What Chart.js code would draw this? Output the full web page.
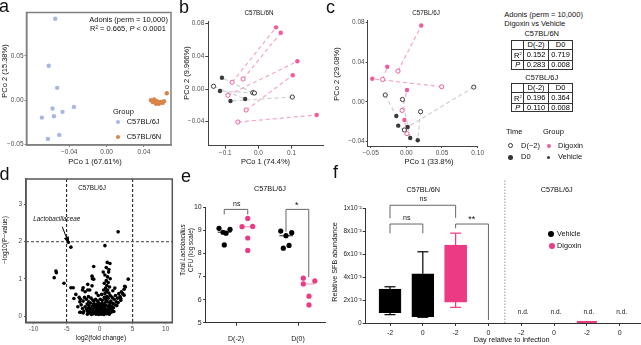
<!DOCTYPE html>
<html><head><meta charset="utf-8">
<script src="https://cdn.jsdelivr.net/npm/chart.js@4.4.1/dist/chart.umd.min.js"></script>
<style>
html,body{margin:0;padding:0;background:#fff;}
body{position:relative;width:641px;height:345px;overflow:hidden;font-family:"Liberation Sans",Arial,sans-serif;}
canvas{position:absolute;}
.t{position:absolute;white-space:nowrap;line-height:1;color:#111;}
.dot{position:absolute;border-radius:50%;box-sizing:border-box;}
table.ad{position:absolute;border-collapse:collapse;table-layout:fixed;font-size:7.5px;border:1.3px solid #222;}
table.ad td{border:1px solid #333;padding:0;text-align:center;height:7.8px;line-height:7.8px;overflow:hidden;white-space:nowrap;}
</style></head><body>
<script>
// ================= DATA =================
// (a) PCoA, strain groups
const a_6J_pco1 = [-0.055,-0.062,-0.053,-0.0579,-0.0564,-0.0693,-0.0472,-0.035,-0.0507,-0.0628];
const a_6J_pco2 = [0.092,0.039,0.014,-0.0094,-0.0181,-0.0196,-0.0131,-0.0075,-0.0391,-0.0436];
const a_6N_pco1 = [0.0475,0.0495,0.051,0.0525,0.054,0.056,0.058,0.060,0.0615,0.053,0.0645];
const a_6N_pco2 = [0.000,-0.002,0.001,-0.003,-0.001,-0.004,-0.002,-0.003,-0.001,-0.004,0.0079];
const a_ticks_x = [-0.04,0,0.04];
const a_ticks_y = [-0.05,0,0.05];

// (b) C57BL/6N PCoA; element i of D(-2) pairs with element i of D0
const b_dig_dm2 = [[-0.0792,0.0082],[-0.0461,0.0122],[-0.0922,-0.0077],[-0.037,-0.0257],[-0.062,-0.0404]];
const b_dig_d0  = [[0.0533,0.0755],[0.0675,0.0689],[0.1175,0.0339],[0.1036,0.0168],[0.1759,-0.0318]];
const b_veh_dm2 = [[-0.1355,0.0033],[-0.0169,-0.0045],[-0.012,-0.0049],[0.1024,-0.0098]];
const b_veh_d0  = [[-0.040,-0.0122],[-0.110,0.0138],[-0.116,-0.0024],[-0.0843,-0.0147]];
const b_ticks_x = [-0.1,0,0.1];
const b_ticks_y = [-0.04,0,0.04,0.08];

// (c) C57BL/6J PCoA
const c_dig_dm2 = [[-0.0117,0.031],[-0.0331,0.0225],[0.0496,0.0152],[-0.0059,-0.0088],[0.001,-0.0323]];
const c_dig_d0  = [[0.021,0.0771],[-0.0267,0.0354],[-0.0477,0.0232],[0.001,0.0118],[-0.0027,-0.0185]];
const c_veh_dm2 = [[0.0945,0.0148],[-0.0295,0.0068],[-0.0054,0.0023],[0.020,-0.0101],[-0.0027,-0.0286]];
const c_veh_d0  = [[0.0019,-0.0256],[-0.014,-0.0145],[0.0055,-0.0367],[0.016,-0.039],[-0.0113,-0.0242]];
const c_ticks_x = [-0.05,0,0.05,0.1];
const c_ticks_y = [-0.04,0,0.04,0.08];

// Adonis tables
const adonis_cols = ['D(-2)','D0'];
const adonis_6N_R2 = ['0.152','0.719'];
const adonis_6N_P  = ['0.283','0.008'];
const adonis_6J_R2 = ['0.196','0.364'];
const adonis_6J_P  = ['0.110','0.008'];

// (d) volcano: [log2 fold change, -log10 P]
const d_points = [
 [2.8,2.26],[-4.75,1.98],[-4.35,1.85],[0.8,1.89],
 [-6.62,1.21],[-6.55,1.16],[-6.88,1.03],[-5.4,0.88],[-4.35,0.76],[-4.0,0.76],
 [-0.9,1.33],[1.15,1.44],[1.56,1.41],[4.33,0.99],[0.55,1.18],[1.36,1.18],
 [-3.9,0.47],[-2.9,0.1],[-1.15,0.81],[-0.9,0.99],[-1.15,1.07],[-2.5,0.76],[-1.8,0.7],[3.7,0.56],[3.2,0.47],[3.9,0.78],
 [-2.2,0.25],[-2.0,0.18],[-1.9,0.32],[-1.8,0.12],[-1.7,0.22],[-1.6,0.28],[-1.5,0.15],[-1.4,0.35],[-1.3,0.2],[-1.2,0.1],
 [-1.1,0.27],[-1.0,0.16],[-0.9,0.33],[-0.8,0.22],[-0.7,0.12],[-0.6,0.3],[-0.5,0.2],[-0.4,0.08],[-0.3,0.26],[-0.2,0.15],
 [-0.1,0.35],[0.0,0.22],[0.1,0.1],[0.2,0.3],[0.3,0.18],[0.4,0.06],[0.5,0.25],[0.6,0.14],[0.7,0.33],[0.8,0.2],
 [0.9,0.1],[1.0,0.28],[1.1,0.17],[1.2,0.38],[1.3,0.24],[1.4,0.12],[1.5,0.3],[1.6,0.2],[1.7,0.4],[1.8,0.26],
 [1.9,0.15],[2.0,0.34],[2.1,0.22],[2.2,0.45],[2.3,0.3],[2.5,0.38],
 [-1.85,0.05],[-1.25,0.04],[-0.95,0.06],[-0.55,0.05],[-0.15,0.04],[0.25,0.05],[0.65,0.04],[1.05,0.06],[1.45,0.05],
 [-2.4,0.12],[-2.6,0.2],[-2.8,0.3],[-2.5,0.4],[-2.9,0.45],[-3.1,0.5],[-3.0,0.38],[-2.3,0.5],[-2.0,0.45],[-1.7,0.52],
 [-1.3,0.48],[-1.0,0.42],[-0.6,0.45],[-0.3,0.4],[0.1,0.45],[0.4,0.42],[0.7,0.5],[0.9,0.45],[1.1,0.52],[1.3,0.48],
 [1.6,0.55],[1.9,0.5],[2.4,0.55],[2.7,0.48],[2.9,0.6],[3.1,0.52],[3.3,0.65],[3.5,0.6],[3.7,0.72],[3.8,0.8],
 [3.2,0.42],[2.8,0.36],[2.6,0.28],
 [0.8,0.6],[1.0,0.65],[1.2,0.7],[1.4,0.62],[0.9,0.75],[1.1,0.82],[1.3,0.9],[1.0,0.95],[1.5,0.78],[0.7,0.88],
 [1.2,1.05],[0.8,1.1],[1.4,1.25],[1.0,1.3],[1.6,1.0],[0.6,0.7],
 [-3.6,0.58],[-2.2,0.65],[-2.6,0.7],[-1.8,0.85],[-1.1,1.0],[-1.5,0.7],[-0.5,0.62],[-0.2,0.55],[0.3,0.58],[2.0,0.68],
 [2.3,0.75],[-3.3,0.25],[-2.5,0.08],[-3.0,0.1],
 [-0.75,0.28],[-0.45,0.32],[-0.05,0.28],[0.35,0.34],[0.75,0.26],[1.15,0.08],[1.55,0.36],[0.15,0.2],[-0.35,0.14],[0.55,0.12],
 [0.95,0.38],[1.35,0.16],[1.75,0.1],[2.15,0.12],[-1.45,0.08],[-0.85,0.4],[-1.65,0.38],[0.05,0.12],[0.45,0.24],[0.85,0.16]
];
const d_fc_cut = [-5,5];
const d_p_cut = 2;
const d_label_point = [-4.75,1.98];
const d_ticks_x = [-10,-5,0,5,10];
const d_ticks_y = [0,1,2,3];

// (e) Total Lactobacillus CFU (log scale)
const e_categories = ['D(-2)','D(0)'];
const e_veh_dm2 = [9.09,8.92,8.88,9.04,8.37];
const e_dig_dm2 = [9.52,9.16,9.17,8.67,8.13];
const e_veh_d0  = [8.97,8.77,8.90,8.35,8.23];
const e_dig_d0  = [6.93,6.68,6.81,6.15,5.77];
const e_ticks_y = [5,6,7,8,9,10];

// (f) Relative SFB abundance (box: min, q1, q3, max)
const f_days   = ['-2','0','-2','0','-2','0','-2','0'];
const f_strain = ['C57BL/6N','C57BL/6N','C57BL/6N','C57BL/6N','C57BL/6J','C57BL/6J','C57BL/6J','C57BL/6J'];
const f_group  = ['Vehicle','Vehicle','Digoxin','Digoxin','Vehicle','Vehicle','Digoxin','Digoxin'];
const f_min = [0.00073,0.00050,0.00137,null,null,null,0,null];
const f_q1  = [0.00090,0.00055,0.00183,null,null,null,0,null];
const f_q3  = [0.00297,0.00431,0.00681,null,null,null,0,null];
const f_max = [0.00317,0.00623,0.00786,null,null,null,0,null];
const f_nd  = [false,false,false,false,true,true,true,true];
const f_ticks_y = [0,0.002,0.004,0.006,0.008,0.01];
const f_ticks_y_labels = ['0','2x10\u207B\u00B3','4x10\u207B\u00B3','6x10\u207B\u00B3','8x10\u207B\u00B3','1x10\u207B\u00B2'];

// ================= STYLE / HELPERS =================
const FAM = 'Liberation Sans';
const PINK = '#ef5b9c', PINK_L = '#f5a7c9', DARK = '#3a3a3a', GRAY_L = '#cfcfcf';
const PINK2 = '#ec3a84';
const minus = d => v => (v < 0 ? '\u2212' : '') + Math.abs(v).toFixed(d);

function T(html, x, y, o = {}) {
  const d = document.createElement('div');
  d.className = 't';
  d.innerHTML = html;
  d.style.fontSize = (o.fs || 7.5) + 'px';
  if (o.color) d.style.color = o.color;
  if (o.it) d.style.fontStyle = 'italic';
  const ax = o.al === 'l' ? '0' : (o.al === 'r' ? '-100%' : '-50%');
  d.style.left = x + 'px'; d.style.top = y + 'px';
  d.style.transform = 'translate(' + ax + ',-50%)' + (o.rot ? ' rotate(' + o.rot + 'deg)' : '');
  document.body.appendChild(d);
  return d;
}
function dot(x, y, r, fill, stroke, sw) {
  const d = document.createElement('div');
  d.className = 'dot';
  Object.assign(d.style, {left: (x - r) + 'px', top: (y - r) + 'px', width: 2*r + 'px', height: 2*r + 'px', background: fill,
    border: stroke ? (sw || 1) + 'px solid ' + stroke : 'none'});
  document.body.appendChild(d);
}
function table(x, y, r2, p) {
  const t = document.createElement('table');
  t.className = 'ad';
  t.style.left = x + 'px'; t.style.top = y + 'px'; t.style.width = '61px';
  t.innerHTML = '<colgroup><col style="width:12px"><col style="width:24.5px"><col style="width:24.5px"></colgroup>' +
    '<tr><td></td><td>' + adonis_cols[0] + '</td><td>' + adonis_cols[1] + '</td></tr>' +
    '<tr><td>R<sup style="font-size:4px;vertical-align:3px">2</sup></td><td>' + r2[0] + '</td><td>' + r2[1] + '</td></tr>' +
    '<tr><td><i>P</i></td><td>' + p[0] + '</td><td>' + p[1] + '</td></tr>';
  document.body.appendChild(t);
}
function lin(min, max, ticks, fmt, o = {}) {
  return {
    type: 'linear', min, max, offset: false,
    afterBuildTicks: s => { s.ticks = ticks.map(v => ({value: v})); },
    ticks: {callback: fmt, font: {family: FAM, size: o.fs || 6.5}, color: o.tc || '#4d4d4d', padding: (o.pad !== undefined ? o.pad : 1),
      maxRotation: 0, minRotation: 0, autoSkip: false},
    grid: {display: true, drawOnChartArea: false, drawTicks: true, tickLength: (o.tl !== undefined ? o.tl : 2), color: o.ac || '#333', lineWidth: 1, offset: false},
    border: {display: true, color: o.ac || '#333', width: o.bw || 1}
  };
}
function mk(x, y, w, h, p, cfg) {
  const c = document.createElement('canvas');
  c.width = w; c.height = h;
  Object.assign(c.style, {left: x + 'px', top: y + 'px', width: w + 'px', height: h + 'px'});
  document.body.appendChild(c);
  const o = cfg.options;
  o.responsive = false; o.maintainAspectRatio = false; o.animation = false; o.devicePixelRatio = 1; o.events = [];
  o.layout = {autoPadding: false, padding: {left: 0, top: p.t - y, right: x + w - p.r, bottom: 0}};
  o.plugins = Object.assign({legend: {display: false}, tooltip: {enabled: false}, title: {display: false}}, o.plugins || {});
  o.scales.y.afterFit = s => { s.width = p.l - x; };
  o.scales.x.afterFit = s => { s.height = y + h - p.b; };
  return new Chart(c, cfg);
}
const frame = (col, w) => ({id: 'frame', afterDraw(ch) {
  const a = ch.chartArea, ctx = ch.ctx;
  ctx.save(); ctx.strokeStyle = col; ctx.lineWidth = w;
  ctx.strokeRect(a.left, a.top, a.right - a.left, a.bottom - a.top); ctx.restore();
}});
function pts(arr, fill, stroke, r, sw) {
  return {data: arr.map(q => ({x: q[0], y: q[1]})), pointRadius: r, pointBackgroundColor: fill, pointBorderColor: stroke || fill,
    pointBorderWidth: sw || 0, order: 0};
}
function pairLines(pre, post, color) {
  return pre.map((q, i) => ({data: [{x: q[0], y: q[1]}, {x: post[i][0], y: post[i][1]}], showLine: true, borderColor: color,
    borderWidth: 1.2, borderDash: [4, 3], pointRadius: 0, order: 2}));
}
function seg(ctx, x1, y1, x2, y2) { ctx.beginPath(); ctx.moveTo(x1, y1); ctx.lineTo(x2, y2); ctx.stroke(); }
const median = a => { const s = [...a].sort((p, q) => p - q); return s[Math.floor(s.length / 2)]; };

// ================= PANEL a =================
mk(0, 0, 180, 170, {l: 26.5, t: 12.5, r: 171, b: 145}, {
  type: 'scatter',
  data: {datasets: [
    pts(a_6J_pco1.map((v, i) => [v, a_6J_pco2[i]]), '#a7b7e1', null, 2.2),
    pts(a_6N_pco1.map((v, i) => [v, a_6N_pco2[i]]), '#d98548', null, 2.2)
  ]},
  options: {scales: {
    x: lin(-0.0858, 0.069, a_ticks_x, minus(2), {ac: '#808080', bw: 1.5, tl: 2, pad: 1}),
    y: lin(-0.0505, 0.099, a_ticks_y, minus(2), {ac: '#808080', bw: 1.5, tl: 2, pad: 1})
  }},
  plugins: [frame('#808080', 1.5)]
});
T('Adonis (perm = 10,000)', 89.3, 20, {al: 'l'});
T('R\u00B2 = 0.665, <i>P</i> &lt; 0.0001', 90, 29.3, {al: 'l'});
T('Group', 113, 111.7, {al: 'l'});
dot(117.7, 122.3, 2, '#a7b7e1'); T('C57BL/6J', 126.7, 122.3, {al: 'l'});
dot(117.7, 136.7, 2, '#d98548'); T('C57BL/6N', 126.7, 136.7, {al: 'l'});
T('PCo 1 (67.61%)', 95, 162);
T('PCo 2 (15.38%)', 5, 71, {rot: -90});

// ================= PANEL b =================
mk(170, 0, 160, 170, {l: 208.3, t: 21.7, r: 323.3, b: 145.7}, {
  type: 'scatter',
  data: {datasets: [
    pts(b_dig_d0, PINK, null, 2.2),
    pts(b_dig_dm2, '#fff', PINK, 2.1, 1),
    pts(b_veh_d0, DARK, null, 2.2),
    pts(b_veh_dm2, '#fff', DARK, 2.1, 1),
    ...pairLines(b_dig_dm2, b_dig_d0, PINK_L),
    ...pairLines(b_veh_dm2, b_veh_d0, GRAY_L)
  ]},
  options: {scales: {
    x: lin(-0.1512, 0.1958, b_ticks_x, minus(1), {tl: 3, pad: 1, ac: '#444'}),
    y: lin(-0.0694, 0.0824, b_ticks_y, minus(2), {tl: 3, pad: 1, ac: '#444'})
  }}
});
T('C57BL/6N', 259, 13.3, {fs: 6.3});
T('PCo 1 (74.4%)', 265.5, 162);
T('PCo 2 (9.966%)', 186.5, 73, {rot: -90});

// ================= PANEL c =================
mk(325, 0, 160, 170, {l: 367.7, t: 20.7, r: 481, b: 146}, {
  type: 'scatter',
  data: {datasets: [
    pts(c_dig_d0, PINK, null, 2.2),
    pts(c_dig_dm2, '#fff', PINK, 2.1, 1),
    pts(c_veh_d0, DARK, null, 2.2),
    pts(c_veh_dm2, '#fff', DARK, 2.1, 1),
    ...pairLines(c_dig_dm2, c_dig_d0, PINK_L),
    ...pairLines(c_veh_dm2, c_veh_d0, GRAY_L)
  ]},
  options: {scales: {
    x: lin(-0.0541, 0.1, c_ticks_x, minus(2), {tl: 2, pad: 1, ac: '#444'}),
    y: lin(-0.0448, 0.082, c_ticks_y, minus(2), {tl: 2, pad: 1, ac: '#444'})
  }}
});
T('C57BL/6J', 426, 13.3, {fs: 6.3});
T('PCo 1 (33.8%)', 429, 162);
T('PCo 2 (29.08%)', 336.7, 74, {rot: -90});

// Adonis tables + legend
T('Adonis (perm = 10,000)', 504.3, 15.3, {al: 'l'});
T('Digoxin vs Vehicle', 504.3, 24.3, {al: 'l'});
T('C57BL/6N', 541.7, 33.7);
table(511.3, 40.3, adonis_6N_R2, adonis_6N_P);
T('C57BL/6J', 541.7, 77.7);
table(511.3, 83, adonis_6J_R2, adonis_6J_P);
T('Time', 506, 132.3, {al: 'l'});
T('Group', 543, 132.3, {al: 'l'});
dot(510.3, 145.7, 2.4, '#fff', '#333', 0.8); T('D(\u22122)', 521, 145.7, {al: 'l'});
dot(548.7, 145.7, 2.1, PINK); T('Digoxin', 558, 145.7, {al: 'l'});
dot(510.3, 157.3, 2.6, '#333'); T('D0', 521, 157.3, {al: 'l'});
dot(548.7, 157.3, 1.8, DARK); T('Vehicle', 558, 157.3, {al: 'l'});

// ================= PANEL d =================
const dDecor = {id: 'dDecor', afterDatasetsDraw(ch) {
  const ctx = ch.ctx, X = ch.scales.x, Y = ch.scales.y, a = ch.chartArea;
  ctx.save();
  ctx.lineWidth = 1; ctx.setLineDash([3, 2]);
  ctx.strokeStyle = '#111';
  d_fc_cut.forEach(v => seg(ctx, X.getPixelForValue(v), a.top, X.getPixelForValue(v), a.bottom));
  ctx.strokeStyle = '#666'; ctx.lineWidth = 1.2;
  seg(ctx, a.left, Y.getPixelForValue(d_p_cut), a.right, Y.getPixelForValue(d_p_cut));
  ctx.setLineDash([]);
  // arrow to Lactobacillaceae
  const tx = X.getPixelForValue(d_label_point[0]), ty = Y.getPixelForValue(d_label_point[1]);
  const sx = tx - 6, sy = ty - 15.5;
  ctx.strokeStyle = '#000'; ctx.lineWidth = 1;
  seg(ctx, sx, sy, tx, ty);
  const ang = Math.atan2(ty - sy, tx - sx), L = 6, W = 0.45;
  ctx.fillStyle = '#000';
  ctx.beginPath(); ctx.moveTo(tx + 1, ty + 2);
  ctx.lineTo(tx - L * Math.cos(ang - W), ty - L * Math.sin(ang - W));
  ctx.lineTo(tx - L * Math.cos(ang + W), ty - L * Math.sin(ang + W));
  ctx.closePath(); ctx.fill();
  ctx.restore();
}};
mk(0, 170, 180, 175, {l: 26, t: 179, r: 172.3, b: 322.3}, {
  type: 'scatter',
  data: {datasets: [pts(d_points, '#000', null, 1.8)]},
  options: {scales: {
    x: lin(-11.15, 11.0, d_ticks_x, v => String(v), {tl: 2, pad: 1, ac: '#555', bw: 1.5}),
    y: lin(-0.169, 3.68, d_ticks_y, v => String(v), {tl: 2, pad: 2, ac: '#555', bw: 1.5})
  }},
  plugins: [dDecor, frame('#555', 1.5)]
});
T('C57BL/6J', 92, 187.7, {fs: 6.3});
T('Lactobacillaceae', 33.3, 219, {al: 'l', it: true, fs: 6.3});
T('log2(fold change)', 101, 338, {fs: 6.5});
T('\u2212log10(P\u2212value)', 4.5, 240, {rot: -90, fs: 6.5});

// ================= PANEL e =================
// beeswarm layout offsets (category units) for the dot plot
const e_swarm = {veh_dm2: [-0.274,-0.21,-0.161,-0.097,-0.189], dig_dm2: [0.189,0.097,0.269,0.189,0.189],
                 veh_d0: [-0.279,-0.194,-0.102,-0.145,-0.237], dig_d0: [0.085,0.085,0.271,0.177,0.177]};
const eGroups = [
  {pos: 0, vals: e_veh_dm2, off: e_swarm.veh_dm2, col: '#000', med: '#555'},
  {pos: 0, vals: e_dig_dm2, off: e_swarm.dig_dm2, col: PINK2, med: '#f6a9c9'},
  {pos: 1, vals: e_veh_d0, off: e_swarm.veh_d0, col: '#000', med: '#555'},
  {pos: 1, vals: e_dig_d0, off: e_swarm.dig_d0, col: PINK2, med: '#f6a9c9'}
];
const eDecor = {id: 'eDecor',
  beforeDatasetsDraw(ch) {
    const ctx = ch.ctx, X = ch.scales.x, Y = ch.scales.y;
    ctx.save(); ctx.lineWidth = 1.3;
    eGroups.forEach(g => {
      const cx = g.pos + g.off.reduce((s, v) => s + v, 0) / g.off.length, m = median(g.vals);
      ctx.strokeStyle = g.med;
      seg(ctx, X.getPixelForValue(cx - 0.11), Y.getPixelForValue(m), X.getPixelForValue(cx + 0.11), Y.getPixelForValue(m));
    });
    ctx.restore();
  },
  afterDraw(ch) {
    const ctx = ch.ctx, X = ch.scales.x, Y = ch.scales.y;
    ctx.save(); ctx.strokeStyle = '#666'; ctx.lineWidth = 1;
    [[-0.19, 0.189, 9.91, 9.69, 9.69], [0.806, 1.173, 9.91, 8.94, 6.98]].forEach(b => {
      const x0 = X.getPixelForValue(b[0]), x1 = X.getPixelForValue(b[1]), yt = Y.getPixelForValue(b[2]);
      ctx.beginPath(); ctx.moveTo(x0, Y.getPixelForValue(b[3])); ctx.lineTo(x0, yt); ctx.lineTo(x1, yt); ctx.lineTo(x1, Y.getPixelForValue(b[4])); ctx.stroke();
    });
    ctx.restore();
  }
};
mk(180, 170, 150, 175, {l: 205.7, t: 207.3, r: 325, b: 322.7}, {
  type: 'scatter',
  data: {datasets: eGroups.map(g => ({data: g.vals.map((v, i) => ({x: g.pos + g.off[i], y: v})), pointRadius: 2.6,
    pointBackgroundColor: g.col, pointBorderWidth: 0}))},
  options: {scales: {
    x: lin(-0.489, 1.435, [0, 1], (v, i) => e_categories[i], {tl: 3, pad: 9, ac: '#333', tc: '#222', fs: 7}),
    y: lin(5, 10, e_ticks_y, v => String(v), {tl: 2.5, pad: 1.5, ac: '#333', tc: '#222', fs: 7})
  }},
  plugins: [eDecor]
});
T('C57BL/6J', 270, 189.3, {fs: 7.3});
T('ns', 236.7, 202.7, {fs: 7});
T('*', 296.7, 205, {fs: 9});
T('Total <i>Lactobacillus</i>', 183, 250, {rot: -90, fs: 6.3});
T('CFU (log scale)', 190.5, 250, {rot: -90, fs: 6.3});

// ================= PANEL f =================
const fColor = i => f_group[i] === 'Digoxin' ? PINK2 : '#000';
const fBoxIdx = f_q1.map((v, i) => i).filter(i => f_q1[i] !== null && f_q3[i] > f_q1[i]);
const fDecor = {id: 'fDecor', afterDraw(ch) {
  const ctx = ch.ctx, X = ch.scales.x, Y = ch.scales.y, a = ch.chartArea;
  ctx.save();
  // whiskers
  f_q1.forEach((q1, i) => {
    if (q1 === null) return;
    const cx = X.getPixelForValue(i);
    ctx.strokeStyle = fColor(i);
    if (f_q3[i] === f_q1[i]) { ctx.lineWidth = 2; seg(ctx, cx - 10, Y.getPixelForValue(q1) - 1, cx + 10, Y.getPixelForValue(q1) - 1); return; }
    ctx.lineWidth = 1.2;
    [[f_q3[i], f_max[i]], [f_q1[i], f_min[i]]].forEach(w => {
      if (w[1] === null || w[1] === w[0]) return;
      const y0 = Y.getPixelForValue(w[0]), y1 = Y.getPixelForValue(w[1]);
      seg(ctx, cx, y0, cx, y1); seg(ctx, cx - 5.5, y1, cx + 5.5, y1);
    });
  });
  // brackets
  ctx.strokeStyle = '#666'; ctx.lineWidth = 1;
  [[0, 2, 0.0103, 0.00916, 0.0092], [0, 1, 0.00866, 0.00785, 0.00785], [2, 3, 0.00866, 0.00828, 0.00026]].forEach(b => {
    const x0 = X.getPixelForValue(b[0]), x1 = X.getPixelForValue(b[1]), yt = Y.getPixelForValue(b[2]);
    ctx.beginPath(); ctx.moveTo(x0, Y.getPixelForValue(b[3])); ctx.lineTo(x0, yt); ctx.lineTo(x1, yt); ctx.lineTo(x1, Y.getPixelForValue(b[4])); ctx.stroke();
  });
  // strain separator
  ctx.strokeStyle = '#999'; ctx.setLineDash([1.5, 1.5]);
  const sx = X.getPixelForValue(3.5);
  seg(ctx, sx, a.bottom, sx, Y.getPixelForValue(0.0125));
  ctx.restore();
}};
const chartF = mk(330, 170, 311, 175, {l: 365.7, t: 208.7, r: 641, b: 323}, {
  type: 'bar',
  data: {datasets: [{
    data: fBoxIdx.map(i => ({x: i, y: [f_q1[i], f_q3[i]]})),
    backgroundColor: fBoxIdx.map(fColor), borderColor: fBoxIdx.map(fColor), borderWidth: 0.5,
    barThickness: 22, borderSkipped: false
  }]},
  options: {scales: {
    x: lin(-0.741, 7.65, [0, 1, 2, 3, 4, 5, 6, 7], (v, i) => f_days[i], {tl: 3, pad: 2.5, ac: '#333', tc: '#222', fs: 7}),
    y: lin(0, 0.01, f_ticks_y, (v, i) => f_ticks_y_labels[i], {tl: 3, pad: 1, ac: '#333', tc: '#222', fs: 6.5})
  }},
  plugins: [fDecor]
});
T('C57BL/6N', 423.3, 190, {fs: 7.3});
T('C57BL/6J', 556.7, 190, {fs: 7.3});
T('ns', 423.3, 198.3, {fs: 7});
T('ns', 406.7, 217.3, {fs: 7});
T('**', 471.7, 219, {fs: 9});
dot(551, 234, 3, '#000'); T('Vehicle', 557, 234, {al: 'l', fs: 7.3});
dot(552.3, 245.7, 3, PINK2); T('Digoxin', 557, 245.7, {al: 'l', fs: 7.3});
f_nd.forEach((nd, i) => {
  if (!nd) return;
  T('n.d.', 330 + chartF.scales.x.getPixelForValue(i) + 2, 170 + chartF.scales.y.getPixelForValue(0) - 11.3, {fs: 6.5});
});
T('Day relative to infection', 511.7, 340, {fs: 7.3});
T('Relative SFB abundance', 335, 261.7, {rot: -90, fs: 7.2});

// panel letters
T('a', -1, 6, {al: 'l', fs: 18});
T('b', 179, 7, {al: 'l', fs: 18});
T('c', 326, 7.3, {al: 'l', fs: 18});
T('d', -0.5, 174, {al: 'l', fs: 18});
T('e', 181, 175.7, {al: 'l', fs: 18});
T('f', 333, 172.3, {al: 'l', fs: 18});
</script>
</body></html>
